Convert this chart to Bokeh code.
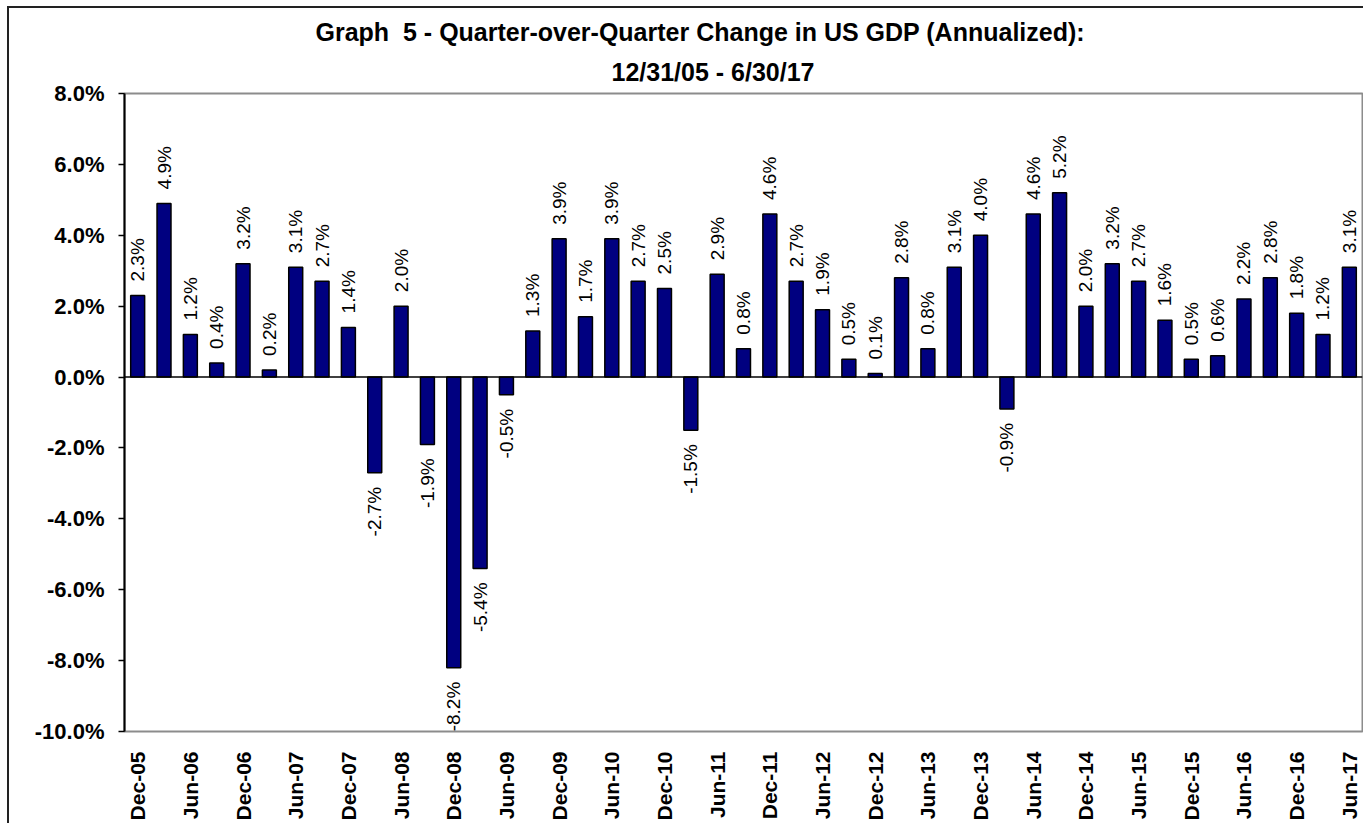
import math
from bokeh.plotting import figure
from bokeh.models import (Range1d, FixedTicker, PrintfTickFormatter, Span, Title,
                          ColumnDataSource)
from bokeh.embed import file_html
from bokeh.resources import INLINE
from bokeh.core.properties import value

# ---------------- data ----------------
quarters = ["Dec-05", "Mar-06", "Jun-06", "Sep-06", "Dec-06", "Mar-07", "Jun-07", "Sep-07",
            "Dec-07", "Mar-08", "Jun-08", "Sep-08", "Dec-08", "Mar-09", "Jun-09", "Sep-09",
            "Dec-09", "Mar-10", "Jun-10", "Sep-10", "Dec-10", "Mar-11", "Jun-11", "Sep-11",
            "Dec-11", "Mar-12", "Jun-12", "Sep-12", "Dec-12", "Mar-13", "Jun-13", "Sep-13",
            "Dec-13", "Mar-14", "Jun-14", "Sep-14", "Dec-14", "Mar-15", "Jun-15", "Sep-15",
            "Dec-15", "Mar-16", "Jun-16", "Sep-16", "Dec-16", "Mar-17", "Jun-17"]
gdp_change = [2.3, 4.9, 1.2, 0.4, 3.2, 0.2, 3.1, 2.7, 1.4, -2.7, 2.0, -1.9, -8.2, -5.4, -0.5,
              1.3, 3.9, 1.7, 3.9, 2.7, 2.5, -1.5, 2.9, 0.8, 4.6, 2.7, 1.9, 0.5, 0.1, 2.8,
              0.8, 3.1, 4.0, -0.9, 4.6, 5.2, 2.0, 3.2, 2.7, 1.6, 0.5, 0.6, 2.2, 2.8, 1.8,
              1.2, 3.1]
y_ticks = [-10, -8, -6, -4, -2, 0, 2, 4, 6, 8]
x_tick_positions = list(range(0, len(quarters), 2))
title_line1 = "Graph \u00a05 - Quarter-over-Quarter Change in US GDP (Annualized):"
title_line2 = "12/31/05 - 6/30/17"

FONT = "Liberation Sans"

idx = list(range(len(quarters)))
labels = [f"{v:.1f}%" for v in gdp_change]
src = ColumnDataSource(dict(x=idx, v=gdp_change, lab=labels))
pos = [i for i in idx if gdp_change[i] >= 0]
neg = [i for i in idx if gdp_change[i] < 0]
src_pos = ColumnDataSource(dict(x=pos, v=[gdp_change[i] for i in pos], lab=[labels[i] for i in pos]))
src_neg = ColumnDataSource(dict(x=neg, v=[gdp_change[i] for i in neg], lab=[labels[i] for i in neg]))

p = figure(width=1356, height=817,
           x_range=Range1d(-0.5, len(quarters) - 0.5), y_range=Range1d(-10, 8),
           output_backend="svg", toolbar_location=None,
           min_border_left=115, min_border_right=3, min_border_top=85, min_border_bottom=94)

p.styles = {"border-left": "2px solid #222222", "border-top": "2px solid #222222",
            "margin-left": "7px", "margin-top": "6px"}

p.background_fill_color = "white"
p.border_fill_color = "white"
p.outline_line_color = "#8c8c8c"
p.outline_line_width = 2
p.xgrid.visible = False
p.ygrid.visible = False

# titles (first added sits closest to plot)
p.add_layout(Title(text=title_line2, align="left", offset=487, standoff=16,
                   text_font=FONT, text_font_size="25px", text_font_style="bold",
                   text_color="black"), "above")
p.add_layout(Title(text=title_line1, align="left", offset=191, standoff=4,
                   text_font=FONT, text_font_size="25px", text_font_style="bold",
                   text_color="black"), "above")

# y axis
p.yaxis.ticker = FixedTicker(ticks=y_ticks)
p.yaxis.formatter = PrintfTickFormatter(format="%.1f%%")
p.yaxis.axis_line_color = "black"
p.yaxis.axis_line_width = 2
p.yaxis.major_tick_line_color = "black"
p.yaxis.major_tick_line_width = 1.5
p.yaxis.major_tick_out = 6
p.yaxis.major_tick_in = 0
p.yaxis.minor_tick_line_color = None
p.yaxis.major_label_standoff = 14
p.yaxis.major_label_text_font = FONT
p.yaxis.major_label_text_font_size = "22px"
p.yaxis.major_label_text_font_style = "bold"
p.yaxis.major_label_text_color = "black"

# x axis
p.xaxis.ticker = FixedTicker(ticks=x_tick_positions)
p.xaxis.major_label_overrides = {i: quarters[i] for i in x_tick_positions}
p.xaxis.major_label_orientation = math.pi / 2
p.xaxis.axis_line_color = None
p.xaxis.major_tick_line_color = None
p.xaxis.minor_tick_line_color = None
p.xaxis.major_label_standoff = 14
p.xaxis.major_label_text_font = FONT
p.xaxis.major_label_text_font_size = "21px"
p.xaxis.major_label_text_font_style = "bold"
p.xaxis.major_label_text_color = "black"

# bars
p.vbar(x="x", top="v", bottom=0, width=0.53, source=src,
       fill_color="#000080", line_color="black", line_width=1.5)

p.add_layout(Span(location=0, dimension="width", line_color="black", line_width=1.5))

# data labels
p.text(x="x", y="v", text="lab", source=src_pos, angle=math.pi / 2,
       text_align="left", text_baseline="middle", y_offset=-14,
       text_font=value(FONT), text_font_size="19px", text_color="black")
p.text(x="x", y="v", text="lab", source=src_neg, angle=math.pi / 2,
       text_align="right", text_baseline="middle", y_offset=14,
       text_font=value(FONT), text_font_size="19px", text_color="black")

open("out.html", "w").write(file_html(p, INLINE))
